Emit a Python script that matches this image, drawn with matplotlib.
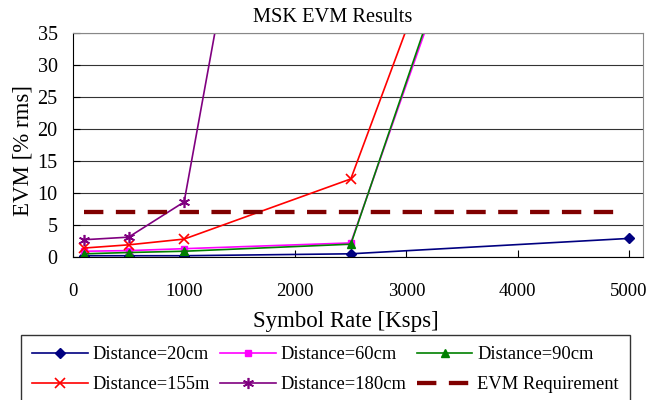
import matplotlib.pyplot as plt

plt.rcParams['font.family'] = ['Liberation Serif', 'DejaVu Serif']
plt.rcParams['font.size'] = 13

# symbol rate [Ksps]
rate = [100, 500, 1000, 2500, 5000]
rate_180 = [100, 500, 1000, 2500]

evm_20 = [0.2, 0.2, 0.2, 0.5, 2.9]
evm_60 = [0.9, 1.0, 1.3, 2.2, 126]
evm_90 = [0.5, 0.7, 0.9, 2.0, 129]
evm_155 = [1.4, 1.9, 2.8, 12.2, 129]
evm_180 = [2.7, 3.1, 8.6, 152]

req_x = [100, 4950]
req_y = [7, 7]

fig = plt.figure(figsize=(6.66, 4.0), dpi=100)
ax = fig.add_axes([0.1096, 0.3575, 0.856, 0.56])

h20, = ax.plot(rate, evm_20, color='#000080', marker='D', ms=5, lw=1.2, label='Distance=20cm')
h60, = ax.plot(rate, evm_60, color='#ff00ff', marker='s', ms=5, lw=1.2, label='Distance=60cm')
h90, = ax.plot(rate, evm_90, color='#008000', marker='^', ms=6, lw=1.2, label='Distance=90cm')
h155, = ax.plot(rate, evm_155, color='#ff0000', marker='x', ms=7, mew=1.2, lw=1.2, label='Distance=155m')
h180, = ax.plot(rate_180, evm_180, color='#800080', marker=(6, 2, 0), ms=8, mew=1.2, lw=1.2,
                label='Distance=180cm')
hreq, = ax.plot(req_x, req_y, color='#800000', lw=3.1, dashes=(4.5, 2.9), label='EVM Requirement')

ax.set_xlim(0, 5130)
ax.set_ylim(0, 35)
ax.set_xticks([0, 1000, 2000, 3000, 4000, 5000])
ax.set_yticks(range(0, 36, 5))
ax.yaxis.grid(True, color='#333333', lw=0.8)
ax.set_axisbelow(True)
ax.tick_params(axis='x', direction='in', length=5, pad=19, labelsize=13.5)
ax.tick_params(axis='y', direction='in', length=5, pad=11, labelsize=14.5)
for s in ['top', 'right']:
    ax.spines[s].set_color('#888888')

fig.text(0.5, 0.956, 'MSK EVM Results', ha='center', va='center', fontsize=14.7)
ax.set_xlabel('Symbol Rate [Ksps]', fontsize=16.5)
ax.xaxis.set_label_coords(0.479, 1 - (322 - 33) / 224, transform=ax.transAxes)
ax.xaxis.label.set_va('center')
ax.set_ylabel('EVM [% rms]', fontsize=16.5)
ax.yaxis.set_label_coords(23 / 666, 1 - 150 / 400, transform=fig.transFigure)
ax.yaxis.label.set_va('center')

handles = [h20, h155, h60, h180, h90, hreq]
leg = fig.legend(handles=handles, ncol=3, loc='upper left',
                 bbox_to_anchor=(21 / 666, 0.0, 609 / 666, 1 - 335 / 400), mode='expand',
                 frameon=True, fancybox=False, edgecolor='black', fontsize=13.3,
                 handlelength=3.0, handletextpad=0.27, borderaxespad=0.0,
                 labelspacing=0.7, borderpad=0.6)
leg.get_frame().set_linewidth(1.0)

fig.savefig('out.png', dpi=100)
